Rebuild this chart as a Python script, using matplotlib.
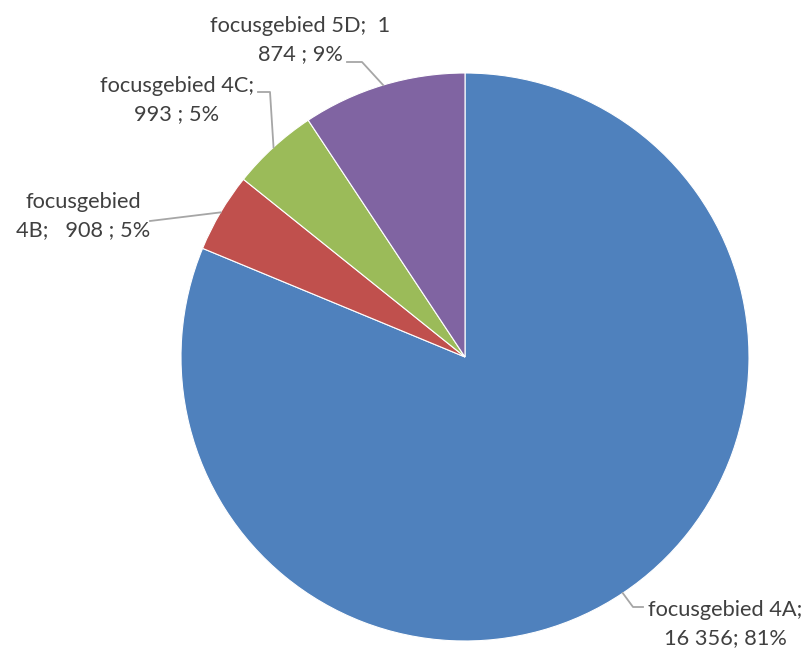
import numpy as np
import matplotlib
matplotlib.use('Agg')
import matplotlib.pyplot as plt

# data
areas = ['focusgebied 4A', 'focusgebied 4B', 'focusgebied 4C', 'focusgebied 5D']
counts = [16356, 908, 993, 1874]
colors = ['#4F81BD', '#C0504D', '#9BBB59', '#8064A2']
label_texts = [
    'focusgebied 4A;\n16 356; 81%',
    'focusgebied\n4B;   908 ; 5%',
    'focusgebied 4C;\n993 ; 5%',
    'focusgebied 5D;  1\n874 ; 9%',
]

W, H = 805, 650
cx, cy, r = 465, 357, 284  # pie centre / radius in pixels (from top-left)

# label centres and leader elbows, in pixels
label_pos = [(725, 624), (83, 216), (177, 100), (300, 40)]
elbows = [
    [(633, 607), (643, 607)],
    [(150, 221)],
    [(270, 92), (258, 92)],
    [(362, 62), (347, 62)],
]

fig = plt.figure(figsize=(W / 100, H / 100), dpi=100)
ax = fig.add_axes([(cx - r) / W, (H - cy - r) / H, 2 * r / W, 2 * r / H])
wedges, _ = ax.pie(counts, colors=colors, startangle=90, counterclock=False,
                   radius=1, wedgeprops=dict(edgecolor='white', linewidth=0.8))
ax.set_xlim(-1, 1)
ax.set_ylim(-1, 1)
ax.set_aspect('equal')
ax.axis('off')


def to_fig(p):
    return p[0] / W, 1 - p[1] / H


for w, txt, pos, elb in zip(wedges, label_texts, label_pos, elbows):
    # leader line starts on the rim at the middle of the wedge
    mid = np.deg2rad((w.theta1 + w.theta2) / 2)
    edge = (cx + r * np.cos(mid), cy - r * np.sin(mid))
    pts = [edge] + elb
    xs = [to_fig(p)[0] for p in pts]
    ys = [to_fig(p)[1] for p in pts]
    fig.add_artist(plt.Line2D(xs, ys, color='#A6A6A6', linewidth=1.3))
    fx, fy = to_fig(pos)
    fig.text(fx, fy, txt, ha='center', va='center', fontsize=15.7,
             family='Lato', color='#404040', linespacing=1.45)

fig.savefig('out.png', dpi=100)
